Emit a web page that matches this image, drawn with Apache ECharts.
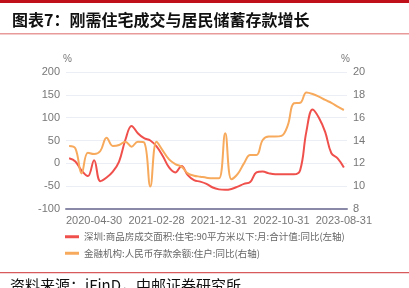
<!DOCTYPE html>
<html><head><meta charset="utf-8">
<script src="https://cdn.jsdelivr.net/npm/echarts@6/dist/echarts.min.js"></script>
<style>html,body{margin:0;padding:0;background:#fff;}#c{width:409px;height:288px;}</style>
</head><body><div id="c"></div>
<script>
const categories = [];
(function(){
  for (let k = 0; k < 45; k++) {
    const m = 11 + k; const y = 2019 + Math.floor(m / 12); const mo = m % 12 + 1;
    const last = new Date(y, mo, 0).getDate();
    categories.push(y + '-' + String(mo).padStart(2,'0') + '-' + String(last).padStart(2,'0'));
  }
})();
const redValues = [11,4,-16,-28,7,-39,-31,-18,4,51,82,66,55,50,37,16,-9,-20,-6,-26,-37,-40,
  -45,-53,-57,-58,-56,-51,-45,-41,-20,-18,-22,-24,-24,-24,-24,-15,70,118,100,69,22,11,-9];
const orangeValues = [13.52,13.31,11.12,12.93,12.82,13.08,14.25,13.52,13.6,13.9,13.46,13.9,13.84,9.96,13.9,13.11,12.35,11.94,11.71,11.12,10.92,10.83,
  10.74,10.69,10.69,14.63,10.6,11.07,12.0,12.73,12.73,14.04,14.34,14.34,14.4,15.3,17.26,17.3,18.2,18.07,17.84,17.55,17.3,16.96,16.67];
const xLabels = ['2020-04-30','2021-02-28','2021-12-31','2022-10-31','2023-08-31'];
const leftTicks = [-100, 200, 50];
const rightTicks = [8, 20, 2];
const seriesNames = ['深圳:商品房成交面积:住宅:90平方米以下:月:合计值:同比(左轴)', '金融机构:人民币存款余额:住户:同比(右轴)'];
const titleText = '图表7：刚需住宅成交与居民储蓄存款增长';
const sourceText = '资料来源：iFinD，中邮证券研究所';

const chart = echarts.init(document.getElementById('c'));
const axisLabelStyle = {color:'#777', fontSize:11, fontFamily:'Liberation Sans, Arial'};
chart.setOption({
  animation:false,
  grid:{left:66, right:62, top:72, bottom:79},
  legend:{orient:'vertical', left:60, top:227, itemWidth:14, itemHeight:3, itemGap:7,
    icon:'rect', textStyle:{color:'#666', fontSize:9.5, fontFamily:'Noto Sans CJK SC'}, data:seriesNames},
  xAxis:{type:'category', data:categories, boundaryGap:true,
    axisLine:{onZero:false, lineStyle:{color:'#8a8aa8', width:2}}, axisTick:{show:false},
    axisLabel:Object.assign({}, axisLabelStyle, {margin:6, interval:(i,v)=>xLabels.indexOf(v)>=0})},
  yAxis:[
    {type:'value', min:leftTicks[0], max:leftTicks[1], interval:leftTicks[2], name:'%', nameGap:8,
     nameTextStyle:{color:'#777', fontSize:10, align:'right', padding:[0,-6,0,0]},
     axisLine:{show:false}, axisTick:{show:false}, axisLabel:Object.assign({}, axisLabelStyle, {margin:6}),
     splitLine:{lineStyle:{color:'#eceef5'}}},
    {type:'value', min:rightTicks[0], max:rightTicks[1], interval:rightTicks[2], name:'%', nameGap:8,
     nameTextStyle:{color:'#777', fontSize:10, align:'left', padding:[0,0,0,-6]},
     axisLine:{show:false}, axisTick:{show:false}, axisLabel:Object.assign({}, axisLabelStyle, {margin:6}),
     splitLine:{show:false}}
  ],
  series:[
    {name:seriesNames[0], type:'line', yAxisIndex:0, data:redValues, smooth:0.4, symbol:'none',
     lineStyle:{color:'#f0504c', width:2}, itemStyle:{color:'#f0504c'}},
    {name:seriesNames[1], type:'line', yAxisIndex:1, data:orangeValues, smooth:0.4, symbol:'none',
     lineStyle:{color:'#f7a95c', width:2}, itemStyle:{color:'#f7a95c'}}
  ],
  graphic:[
    {type:'rect', shape:{x:0,y:0,width:409,height:3}, style:{fill:'#c0101a'}},
    {type:'text', left:12, top:12, style:{text:titleText, fill:'#111', font:'bold 16px "Noto Sans CJK SC"'}},
    {type:'rect', shape:{x:0,y:33,width:409,height:1.5}, style:{fill:'#e89a9a'}},
    {type:'rect', shape:{x:0,y:272,width:409,height:1.2}, style:{fill:'#d85a5a'}},
    {type:'text', left:10, top:278, style:{text:sourceText, fill:'#111', font:'15px "Noto Sans CJK SC"'}}
  ]
});
</script></body></html>
